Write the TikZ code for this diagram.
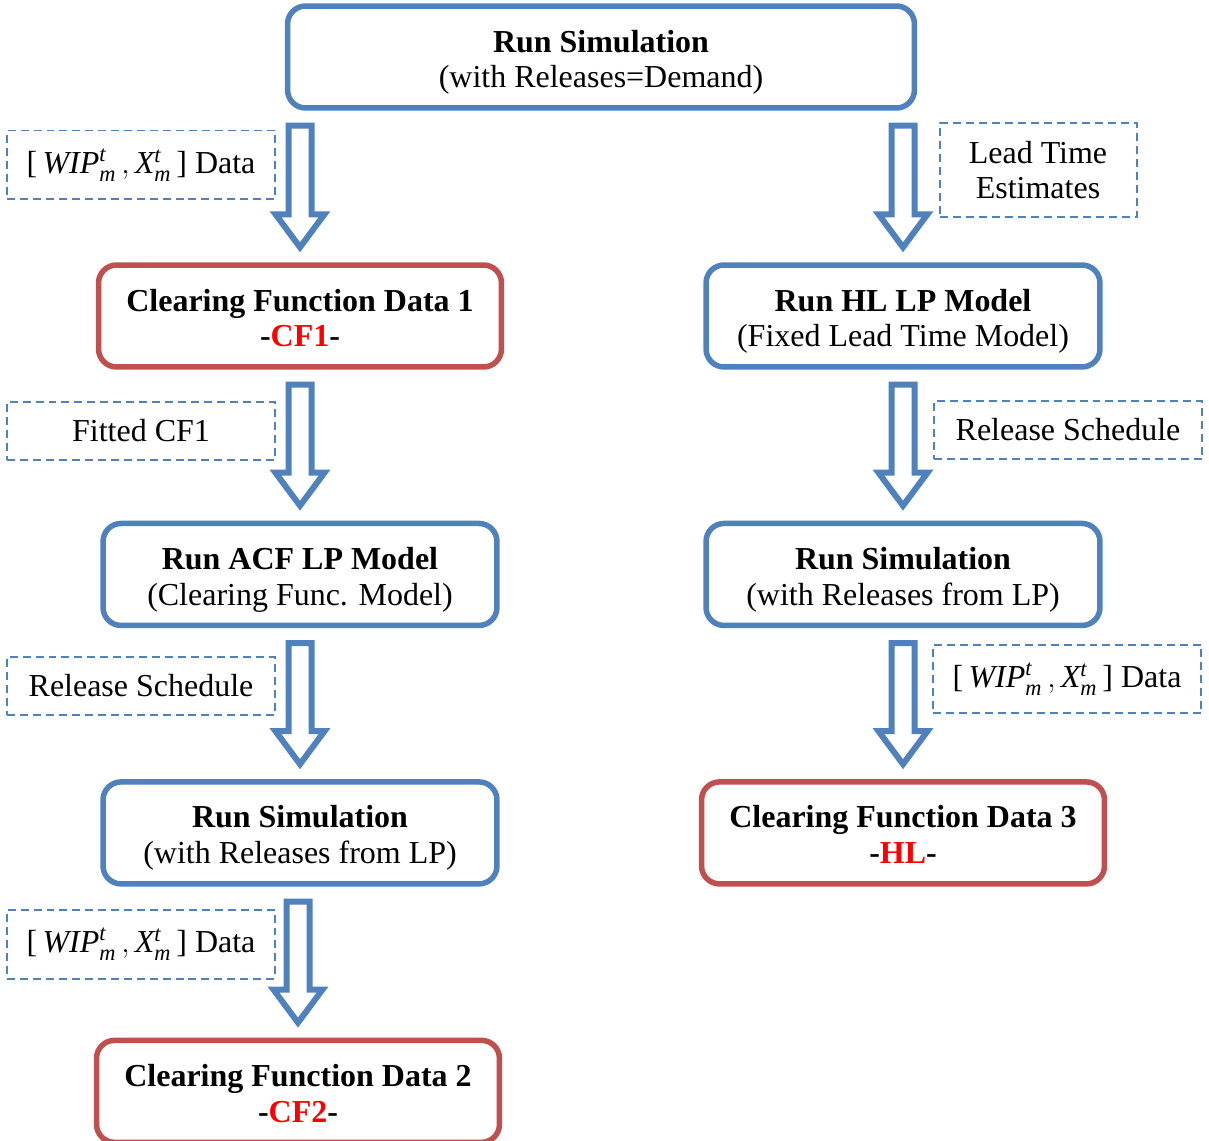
\documentclass[tikz,border=0pt]{standalone}
\usepackage{fontspec}
\setmainfont{Liberation Serif}
\usepackage{tikz}
\usepackage{xcolor}
\usetikzlibrary{positioning,calc}
\definecolor{stepblue}{HTML}{4F81BD}
\definecolor{stepred}{HTML}{C0504D}

% hollow block arrow from the bottom of #1 to the top of #2
\newcommand{\flowarrow}[2]{%
  \draw[blockarrow] let \p1=(#1.south), \p2=(#2.north) in
    (\x2-0.23cm,\y1-0.3cm) -- (\x2+0.23cm,\y1-0.3cm)
    -- (\x2+0.23cm,\y2+0.96cm) -- (\x2+0.49cm,\y2+0.96cm)
    -- (\x2,\y2+0.3cm)
    -- (\x2-0.49cm,\y2+0.96cm) -- (\x2-0.23cm,\y2+0.96cm) -- cycle;}
\newcommand{\wipdata}{[\,$\mathit{WIP}^{\mathit{t}}_{\mathit{m}}\,,\mathit{X}^{\mathit{t}}_{\mathit{m}}\,$] Data}

\begin{document}
\begin{tikzpicture}[
  x=0.02cm, y=-0.02cm,
  node distance=3.02cm,
  every node/.style={font=\fontsize{18.2pt}{20.4pt}\selectfont},
  runbox/.style={rectangle, rounded corners=0.36cm, draw=stepblue, line width=0.11cm,
    fill=white, minimum width=7.88cm, minimum height=2.04cm, align=center,
    text height=38pt, text depth=2.8pt},
  cfbox/.style={runbox, draw=stepred, minimum width=8.06cm},
  note/.style={rectangle, draw=stepblue, line width=0.04cm,
    dash pattern=on 0.16cm off 0.1cm, minimum width=5.38cm, minimum height=1.16cm, align=center},
  blockarrow/.style={draw=stepblue, fill=white, line width=0.12cm, line join=miter},
]
\useasboundingbox (0,0) rectangle (1209,1141);

% Top
\node[runbox, minimum width=12.54cm] (start) at (601,57) {\textbf{Run Simulation}\\(with Releases=Demand)};

% Left branch
\node[cfbox] (cf1) at (300,316) {\textbf{Clearing Function Data 1}\\\textbf{-\textcolor{red}{CF1}-}};
\node[runbox, below=of cf1] (acf) {\textbf{Run ACF LP Model}\\(Clearing Func. Model)};
\node[runbox, below=of acf] (simL) {\textbf{Run Simulation}\\(with Releases from LP)};
\node[cfbox, below=of simL, xshift=-0.04cm] (cf2) {\textbf{Clearing Function Data 2}\\\textbf{-\textcolor{red}{CF2}-}};

% Right branch
\node[runbox] (hl) at (903,316) {\textbf{Run HL LP Model}\\(Fixed Lead Time Model)};
\node[runbox, below=of hl] (simR) {\textbf{Run Simulation}\\(with Releases from LP)};
\node[cfbox, below=of simR] (cf3) {\textbf{Clearing Function Data 3}\\\textbf{-\textcolor{red}{HL}-}};

% Notes
\node[note, minimum height=1.38cm] (nL1) at (141,165) {\wipdata};
\node[note] (nL2) at (141,431) {Fitted CF1};
\node[note] (nL3) at (141,686) {Release Schedule};
\node[note, minimum height=1.38cm] (nL4) at (141,944) {\wipdata};
\node[note, minimum width=3.94cm, minimum height=1.9cm] (nR1) at (1038,170) {Lead Time\\Estimates};
\node[note] (nR2) at (1068,430) {Release Schedule};
\node[note, minimum height=1.38cm] (nR3) at (1067,679) {\wipdata};

% Arrows
\flowarrow{start}{cf1}
\flowarrow{cf1}{acf}
\flowarrow{acf}{simL}
\flowarrow{simL}{cf2}
\flowarrow{start}{hl}
\flowarrow{hl}{simR}
\flowarrow{simR}{cf3}
\end{tikzpicture}
\end{document}
